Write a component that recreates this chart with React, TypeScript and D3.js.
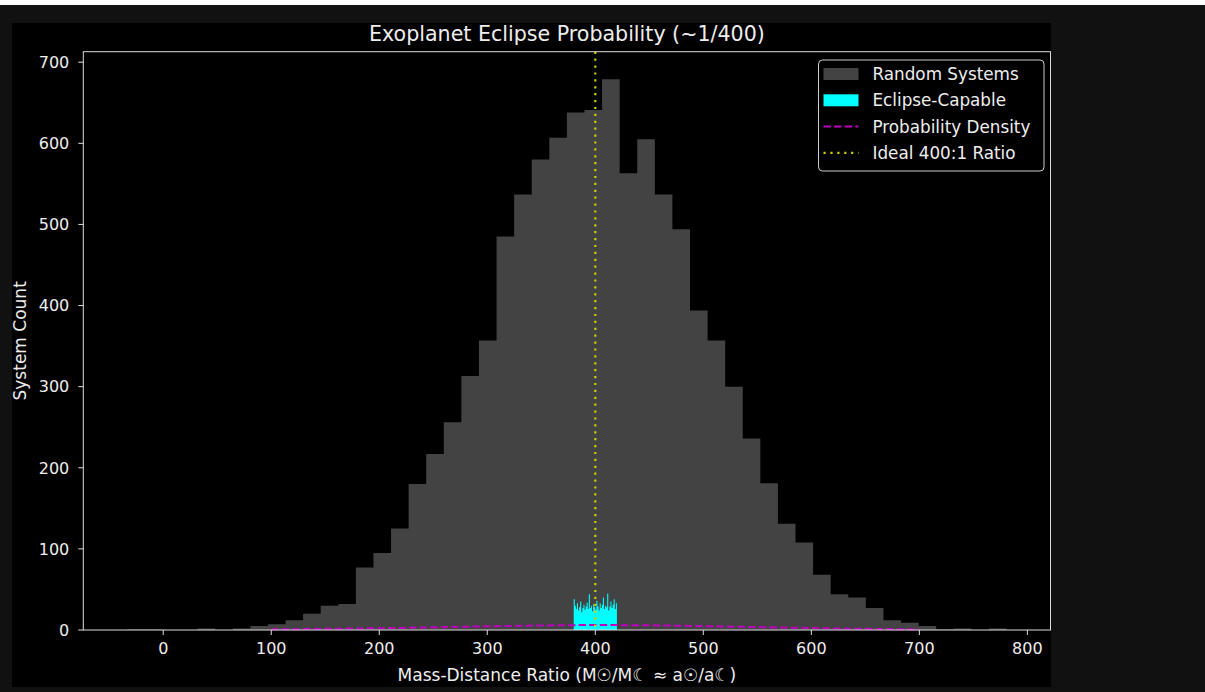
import React from "react";
import * as d3 from "d3";

// Random systems histogram: 50 equal bins between HIST_MIN and HIST_MAX
const HIST_MIN = -33.3;
const HIST_MAX = 780.7;
const randomCounts = [
  1, 1, 0, 0, 2, 0, 2, 5, 7, 12,
  20, 30, 32, 77, 95, 125, 180, 217, 256, 313,
  357, 485, 537, 580, 607, 638, 641, 679, 563, 605,
  537, 494, 394, 357, 300, 236, 181, 131, 108, 68,
  44, 40, 27, 12, 9, 5, 1, 2, 0, 2,
];

// Eclipse-capable systems: fine bins between 380 and 420
const ECL_MIN = 380;
const ECL_MAX = 420;
const eclipseCounts = [
  38, 30, 26, 33, 24, 28, 35, 22, 27, 31,
  25, 29, 34, 26, 44, 27, 30, 23, 32, 28,
  25, 36, 29, 24, 33, 27, 31, 40, 26, 30,
  28, 45, 24, 29, 35, 27, 31, 38, 26, 33,
];

// Probability density curve (scaled)
const densityX = [100, 150, 200, 250, 300, 350, 400, 450, 500, 550, 600, 650, 700];
const densityY = [0.7, 1.4, 2.2, 3.3, 4.5, 5.6, 6.2, 5.8, 4.8, 3.6, 2.4, 1.4, 0.7];

const IDEAL_RATIO = 400;

const xTicks = [0, 100, 200, 300, 400, 500, 600, 700, 800];
const yTicks = [0, 100, 200, 300, 400, 500, 600, 700];

const legendItems = [
  { label: "Random Systems", kind: "patch", color: "#434343" },
  { label: "Eclipse-Capable", kind: "patch", color: "#00ffff" },
  { label: "Probability Density", kind: "dash", color: "#bf00bf" },
  { label: "Ideal 400:1 Ratio", kind: "dot", color: "#cccc00" },
];

const W = 1205;
const H = 692;
const FONT = "DejaVu Sans, sans-serif";
const TEXT = "#eeeeee";
const SPINE = "#dddddd";

// step outline of a histogram, as one filled path (no seams between bars)
function histPath(
  counts: number[],
  lo: number,
  hi: number,
  x: d3.ScaleLinear<number, number>,
  y: d3.ScaleLinear<number, number>
) {
  const w = (hi - lo) / counts.length;
  const p = d3.path();
  p.moveTo(x(lo), y(0));
  counts.forEach((c, i) => {
    p.lineTo(x(lo + i * w), y(c));
    p.lineTo(x(lo + (i + 1) * w), y(c));
  });
  p.lineTo(x(hi), y(0));
  p.closePath();
  return p.toString();
}

export default function App() {
  const left = 83.3;
  const right = 1050.5;
  const top = 51.7;
  const bottom = 630;

  const span = HIST_MAX - HIST_MIN;
  const x = d3
    .scaleLinear()
    .domain([HIST_MIN - 0.05 * span, HIST_MAX + 0.05 * span])
    .range([left, right]);
  const yMax = (d3.max(randomCounts) as number) * 1.05;
  const y = d3.scaleLinear().domain([0, yMax]).range([bottom, top]);

  const line = d3
    .line<number>()
    .x((_, i) => x(densityX[i]))
    .y((d) => y(d));

  const legX = 818.5;
  const legY = 60;
  const rowH = 26.3;

  return (
    <svg
      width={W}
      height={H}
      style={{ position: "absolute", left: 0, top: 0 }}
      fontFamily={FONT}
    >
      <rect x={0} y={0} width={W} height={H} fill="#111111" />
      <rect x={0} y={0} width={W} height={5} fill="#ffffff" />
      <rect x={12} y={23} width={1039} height={664} fill="#000000" />

      <path d={histPath(randomCounts, HIST_MIN, HIST_MAX, x, y)} fill="#434343" />
      <path d={histPath(eclipseCounts, ECL_MIN, ECL_MAX, x, y)} fill="#00ffff" />

      <path
        d={line(densityY) || ""}
        fill="none"
        stroke="#bf00bf"
        strokeWidth={2}
        strokeDasharray="7.4,3.2"
      />

      <line
        x1={x(IDEAL_RATIO)}
        x2={x(IDEAL_RATIO)}
        y1={top}
        y2={bottom}
        stroke="#cccc00"
        strokeWidth={2.2}
        strokeDasharray="2.2,4.7"
      />

      {/* spines */}
      <rect
        x={left}
        y={top}
        width={right - left}
        height={bottom - top}
        fill="none"
        stroke={SPINE}
        strokeWidth={1}
      />

      {xTicks.map((t) => (
        <g key={"xt" + t} transform={`translate(${x(t)},${bottom})`}>
          <line y1={0} y2={5} stroke={SPINE} />
          <text y={24} textAnchor="middle" fill={TEXT} fontSize={16}>
            {t}
          </text>
        </g>
      ))}
      {yTicks.map((t) => (
        <g key={"yt" + t} transform={`translate(${left},${y(t)})`}>
          <line x1={-5} x2={0} stroke={SPINE} />
          <text x={-14} dy="0.36em" textAnchor="end" fill={TEXT} fontSize={16}>
            {t}
          </text>
        </g>
      ))}

      <text
        x={(left + right) / 2}
        y={41}
        textAnchor="middle"
        fill={TEXT}
        fontSize={20.6}
      >
        Exoplanet Eclipse Probability (~1/400)
      </text>
      <text
        x={(left + right) / 2}
        y={681}
        textAnchor="middle"
        fill={TEXT}
        fontSize={17}
      >
        Mass-Distance Ratio (M☉/M☾ ≈ a☉/a☾)
      </text>
      <text
        transform={`translate(26,${(top + bottom) / 2}) rotate(-90)`}
        textAnchor="middle"
        fill={TEXT}
        fontSize={17}
      >
        System Count
      </text>

      {/* legend */}
      <rect
        x={legX}
        y={legY}
        width={225.5}
        height={111}
        rx={4}
        fill="#000000"
        fillOpacity={0.8}
        stroke="#cccccc"
        strokeWidth={1}
      />
      {legendItems.map((it, i) => {
        const cy = legY + 14 + i * rowH;
        return (
          <g key={"lg" + i}>
            {it.kind === "patch" && (
              <rect x={823.5} y={cy - 6} width={35} height={12} fill={it.color} />
            )}
            {it.kind === "dash" && (
              <line
                x1={823.5}
                x2={858.5}
                y1={cy}
                y2={cy}
                stroke={it.color}
                strokeWidth={2}
                strokeDasharray="7.4,3.2"
              />
            )}
            {it.kind === "dot" && (
              <line
                x1={823.5}
                x2={858.5}
                y1={cy}
                y2={cy}
                stroke={it.color}
                strokeWidth={2.2}
                strokeDasharray="2.2,4.7"
              />
            )}
            <text x={872.5} y={cy} dy="0.36em" fill={TEXT} fontSize={16.8}>
              {it.label}
            </text>
          </g>
        );
      })}
    </svg>
  );
}
